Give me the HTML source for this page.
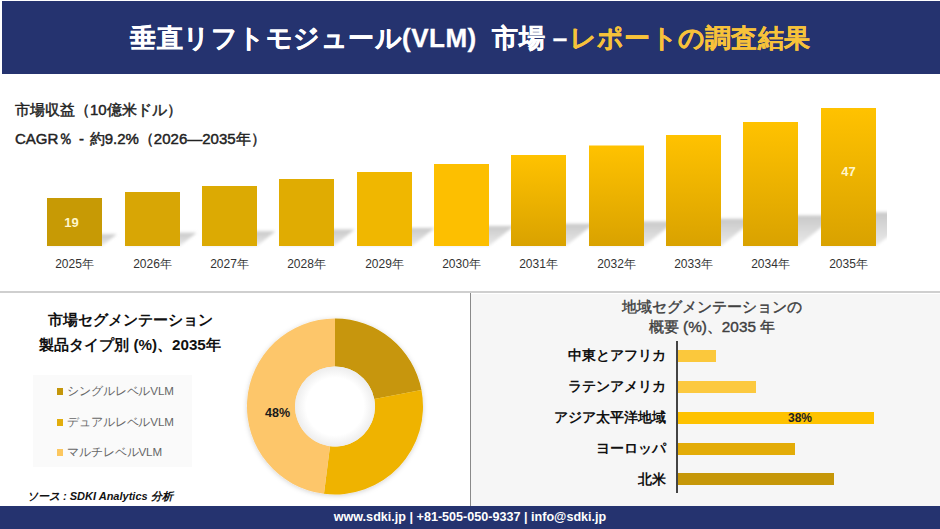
<!DOCTYPE html>
<html><head><meta charset="utf-8">
<style>
*{margin:0;padding:0;box-sizing:border-box}
html,body{width:940px;height:529px;overflow:hidden;background:#fff}
body{position:relative;font-family:"Liberation Sans",sans-serif;color:#222}
.abs{position:absolute;white-space:nowrap}
#hdr{left:2px;top:1px;width:938px;height:73px;background:#25336f}
#title{left:130px;top:21px;font-size:26px;font-weight:bold;color:#fff;letter-spacing:0.5px;-webkit-text-stroke:0.3px #fff}
#title .y{-webkit-text-stroke:0.2px #f7c23a}
#title .y{color:#f7c23a}
.lbl1{left:15px;font-size:15px;font-weight:normal;-webkit-text-stroke:0.45px #222;color:#222;word-spacing:1.5px}
.yr{font-size:12px;color:#333;width:70px;text-align:center;top:256px}
#sep{left:0;top:291px;width:940px;height:2px;background:#cfcfcf}
#rp{left:471px;top:294px;width:469px;height:212px;background:#f6f6f6}
#vline{left:470px;top:293px;width:1px;height:213px;background:#8a8a8a}
#ftr{left:0;top:506px;width:940px;height:23px;background:#25336f}
#ftxt{left:0;top:510px;width:940px;text-align:center;font-size:12.6px;font-weight:bold;color:#fff}
.segt{font-size:15.2px;font-weight:bold;color:#111;width:260px;text-align:center;left:0}
#leg{left:33px;top:375px;width:159px;height:92px;background:#fafafa}
.li{left:57px;font-size:11.6px;color:#666;letter-spacing:-0.1px}
.li i{display:inline-block;width:6px;height:7px;margin-right:4px;vertical-align:0}
.rt{font-size:15.3px;color:#404040;-webkit-text-stroke:0.4px #404040;width:300px;text-align:center;left:562px}
.rl{font-size:13.8px;font-weight:bold;color:#111;text-align:right;width:200px;left:466px}
.hb{left:678px;height:12px}
</style></head><body>
<div id="hdr" class="abs"></div>
<div id="title" class="abs">垂直リフトモジュール(VLM)&nbsp; 市場 –<span class="y" style="margin-left:2px;letter-spacing:0.25px">レポートの調査結果</span></div>

<div class="abs lbl1" style="top:101px">市場収益（10億米ドル）</div>
<div class="abs lbl1" style="top:130px">CAGR％ - 約9.2%（2026—2035年）</div>

<svg class="abs" style="left:0;top:0" width="940" height="290">
  <defs>
    <linearGradient id="sh" x1="0" y1="0" x2="0" y2="1">
      <stop offset="0" stop-color="#c8c8c8"/>
      <stop offset="1" stop-color="#ebebeb"/>
    </linearGradient>
    <linearGradient id="g1" x1="0" y1="0" x2="0" y2="1">
      <stop offset="0" stop-color="#ffc200"/>
      <stop offset="1" stop-color="#d9a200"/>
    </linearGradient>
    <filter id="bl" x="-50%" y="-50%" width="200%" height="200%"><feGaussianBlur stdDeviation="1.8"/></filter>
    <clipPath id="plot"><rect x="0" y="80" width="887" height="200"/></clipPath>
  </defs>
  <g clip-path="url(#plot)" filter="url(#bl)"><polygon points="47,246 102,246 116.7,234.2 61.7,234.2" fill="url(#sh)"/><polygon points="125,246 180,246 196.5,232.8 141.5,232.8" fill="url(#sh)"/><polygon points="202,246 257,246 275.4,231.3 220.4,231.3" fill="url(#sh)"/><polygon points="279,246 334,246 354.5,229.6 299.5,229.6" fill="url(#sh)"/><polygon points="357,246 412,246 434.7,227.9 379.7,227.9" fill="url(#sh)"/><polygon points="434,246 489,246 514.1,225.9 459.1,225.9" fill="url(#sh)"/><polygon points="511,246 566,246 593.9,223.7 538.9,223.7" fill="url(#sh)"/><polygon points="589,246 644,246 674.8,221.4 619.8,221.4" fill="url(#sh)"/><polygon points="666,246 721,246 755.0,218.8 700.0,218.8" fill="url(#sh)"/><polygon points="743,246 798,246 836.0,215.6 781.0,215.6" fill="url(#sh)"/><polygon points="821,246 876,246 918.3,212.2 863.3,212.2" fill="url(#sh)"/></g>
  <g><rect x="47" y="198" width="55" height="48" fill="#c79a05"/><rect x="125" y="192" width="55" height="54" fill="#d8a605"/><rect x="202" y="186" width="55" height="60" fill="#dcaa03"/><rect x="279" y="179" width="55" height="67" fill="#e0ac02"/><rect x="357" y="172" width="55" height="74" fill="#f0b700"/><rect x="434" y="164" width="55" height="82" fill="#fdbf00"/><rect x="511" y="155" width="55" height="91" fill="url(#g1)"/><rect x="589" y="145.5" width="55" height="100.5" fill="url(#g1)"/><rect x="666" y="135" width="55" height="111" fill="url(#g1)"/><rect x="743" y="122" width="55" height="124" fill="url(#g1)"/><rect x="821" y="108" width="55" height="138" fill="url(#g1)"/></g>
</svg>
<div class="abs yr" style="left:39.5px">2025年</div><div class="abs yr" style="left:117.5px">2026年</div><div class="abs yr" style="left:194.5px">2027年</div><div class="abs yr" style="left:271.5px">2028年</div><div class="abs yr" style="left:349.5px">2029年</div><div class="abs yr" style="left:426.5px">2030年</div><div class="abs yr" style="left:503.5px">2031年</div><div class="abs yr" style="left:581.5px">2032年</div><div class="abs yr" style="left:658.5px">2033年</div><div class="abs yr" style="left:735.5px">2034年</div><div class="abs yr" style="left:813.5px">2035年</div>
<div class="abs" style="left:44px;top:215px;width:55px;text-align:center;font-size:13px;font-weight:bold;color:#fff6cc">19</div>
<div class="abs" style="left:821px;top:164px;width:55px;text-align:center;font-size:13px;font-weight:bold;color:#fff6cc">47</div>

<div id="sep" class="abs"></div>
<div id="rp" class="abs"></div>
<div id="vline" class="abs"></div>

<div class="abs segt" style="top:310px">市場セグメンテーション</div>
<div class="abs segt" style="top:335px">製品タイプ別 (%)、2035年</div>
<div id="leg" class="abs"></div>
<div class="abs li" style="top:384px"><i style="background:#c4960a"></i>シングルレベルVLM</div>
<div class="abs li" style="top:415px"><i style="background:#e2ad0c"></i>デュアルレベルVLM</div>
<div class="abs li" style="top:445px"><i style="background:#fcc75f"></i>マルチレベルVLM</div>
<div class="abs" style="left:27px;top:489px;font-size:11px;font-weight:bold;font-style:italic;color:#111">ソース : SDKI Analytics 分析</div>

<svg class="abs" style="left:0;top:0" width="470" height="506">
  <defs><filter id="ds" x="-20%" y="-20%" width="140%" height="140%"><feDropShadow dx="0" dy="1" stdDeviation="2.5" flood-color="#000" flood-opacity="0.18"/></filter></defs><g transform="translate(335,406.5)" filter="url(#ds)">
    <path d="M0.00,-88.00 A88,88 0 0 1 86.44,-16.49 L39.29,-7.50 A40,40 0 0 0 0.00,-40.00Z" fill="#c79607"/>
    <path d="M86.44,-16.49 A88,88 0 0 1 -11.03,87.31 L-5.01,39.68 A40,40 0 0 0 39.29,-7.50Z" fill="#efb306"/>
    <path d="M-11.03,87.31 A88,88 0 0 1 -0.00,-88.00 L-0.00,-40.00 A40,40 0 0 0 -5.01,39.68Z" fill="#fdc66a"/>
  </g>
  <defs><radialGradient id="ih" cx="0.5" cy="0.5" r="0.5"><stop offset="0.72" stop-color="#fff"/><stop offset="1" stop-color="#ededed"/></radialGradient></defs><circle cx="335" cy="406.5" r="40" fill="url(#ih)"/>
</svg>
<div class="abs" style="left:265px;top:406px;font-size:12.5px;font-weight:bold;color:#1a1a1a">48%</div>

<div class="abs rt" style="top:297px">地域セグメンテーションの</div>
<div class="abs rt" style="top:317px">概要 (%)、2035 年</div>
<div class="abs" style="left:676px;top:341px;width:2px;height:152px;background:#444"></div>
<div class="abs hb" style="top:350px;width:38px;background:#fbc83c"></div>
<div class="abs hb" style="top:381px;width:78px;background:#fcc93f"></div>
<div class="abs hb" style="top:412px;width:196px;background:#fec200"></div>
<div class="abs hb" style="top:443px;width:117px;background:#e3ac08"></div>
<div class="abs hb" style="top:473px;width:156px;background:#c69709"></div>
<div class="abs rl" style="top:347px">中東とアフリカ</div>
<div class="abs rl" style="top:378px">ラテンアメリカ</div>
<div class="abs rl" style="top:409px">アジア太平洋地域</div>
<div class="abs rl" style="top:440px">ヨーロッパ</div>
<div class="abs rl" style="top:471px">北米</div>
<div class="abs" style="left:788px;top:411px;font-size:12px;font-weight:bold;color:#222">38%</div>

<div id="ftr" class="abs"></div>
<div id="ftxt" class="abs">www.sdki.jp | +81-505-050-9337 | info@sdki.jp</div>
</body></html>
